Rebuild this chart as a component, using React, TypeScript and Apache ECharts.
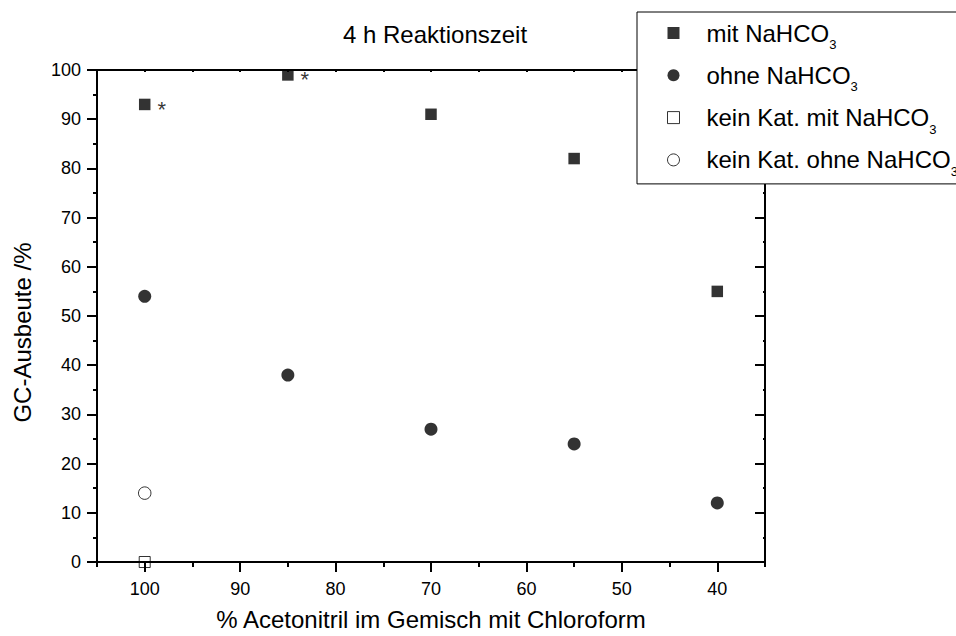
import React, { useEffect, useRef } from "react";
import * as echarts from "echarts";

const FONT = "Liberation Sans, Arial, Helvetica, sans-serif";

const acetonitrilPct = [100, 85, 70, 55, 40];
const mitNaHCO3 = [93, 99, 91, 82, 55];
const ohneNaHCO3 = [54, 38, 27, 24, 12];
const keinKatPct = [100];
const keinKatMitNaHCO3 = [0];
const keinKatOhneNaHCO3 = [14];
const starredIdx = [0, 1];

const majorX = [40, 50, 60, 70, 80, 90, 100];
const seriesNames = [
  "mit NaHCO3",
  "ohne NaHCO3",
  "kein Kat. mit NaHCO3",
  "kein Kat. ohne NaHCO3",
];

const pairs = (xs: number[], ys: number[]) => xs.map((x, i) => [x, ys[i]]);

export default function App() {
  const ref = useRef<HTMLDivElement>(null);
  useEffect(() => {
    if (!ref.current) return;
    const chart = echarts.init(ref.current, null, { renderer: "svg" });
    const axisLine = { show: true, onZero: false, lineStyle: { color: "#000", width: 2 } };
    const xCommon = { type: "value", min: 35, max: 105, inverse: true, splitLine: { show: false } };
    const legendStyle = (i: number) => {
      const styles = [
        { color: "#000", borderWidth: 0 },
        { color: "#000", borderWidth: 0 },
        { color: "#fff", borderColor: "#000", borderWidth: 1 },
        { color: "#fff", borderColor: "#000", borderWidth: 1 },
      ];
      return styles[i];
    };
    chart.setOption({
      animation: false,
      backgroundColor: "#fff",
      textStyle: { fontFamily: FONT, color: "#000" },
      title: {
        text: "4 h Reaktionszeit",
        left: 343,
        top: 22,
        padding: 0,
        textStyle: { fontFamily: FONT, fontSize: 24, fontWeight: "normal", color: "#000" },
      },
      grid: { left: 97, right: 191, top: 70, bottom: 71, containLabel: false },
      legend: {
        orient: "vertical",
        left: 637,
        top: 12,
        padding: [3, 10, 6, 30],
        itemGap: 6.3,
        itemWidth: 12,
        itemHeight: 12,
        borderColor: "#000",
        borderWidth: 1,
        backgroundColor: "#fff",
        z: 10,
        data: seriesNames.map((n, i) => ({
          name: n,
          icon: i % 2 === 0 ? "rect" : "circle",
          itemStyle: legendStyle(i),
        })),
        formatter: (name: string) => "{gap|}" + name.replace(/3$/, "") + "{sub|3}",
        textStyle: {
          fontFamily: FONT,
          fontSize: 24,
          color: "#000",
          lineHeight: 36,
          rich: {
            gap: { width: 22, lineHeight: 36 },
            sub: { fontSize: 13, lineHeight: 13, verticalAlign: "bottom", fontFamily: FONT, color: "#000" },
          },
        },
      },
      xAxis: [
        {
          ...xCommon,
          position: "bottom",
          interval: 5,
          axisLine,
          axisTick: { show: true, length: 5, lineStyle: { color: "#000", width: 2 } },
          axisLabel: {
            show: true,
            margin: 18,
            fontSize: 18,
            fontFamily: FONT,
            color: "#000",
            formatter: (v: number) => (v % 10 === 0 ? String(v) : ""),
          },
          name: "% Acetonitril im Gemisch mit Chloroform",
          nameLocation: "middle",
          nameGap: 45,
          nameTextStyle: { fontFamily: FONT, fontSize: 24, color: "#000" },
        },
        {
          ...xCommon,
          position: "bottom",
          interval: 5,
          axisLine: { show: false },
          axisTick: { show: true, length: 10, customValues: majorX, lineStyle: { color: "#000", width: 2 } },
          axisLabel: { show: false },
        },
        {
          ...xCommon,
          position: "top",
          interval: 5,
          axisLine,
          axisTick: { show: true, inside: true, length: 2, lineStyle: { color: "#000", width: 2 } },
          axisLabel: { show: false },
        },
      ],
      yAxis: [
        {
          type: "value",
          min: 0,
          max: 100,
          interval: 10,
          position: "left",
          axisLine,
          splitLine: { show: false },
          axisTick: { show: true, length: 10, lineStyle: { color: "#000", width: 2 } },
          minorTick: { show: true, splitNumber: 2, length: 4, lineStyle: { color: "#000", width: 2 } },
          axisLabel: { margin: 16, fontSize: 18, fontFamily: FONT, color: "#000" },
          name: "GC-Ausbeute /%",
          nameLocation: "middle",
          nameGap: 63,
          nameTextStyle: { fontFamily: FONT, fontSize: 24, color: "#000", padding: [0, 33, 0, 0] },
        },
        {
          type: "value",
          min: 0,
          max: 100,
          interval: 10,
          position: "right",
          axisLine,
          splitLine: { show: false },
          axisTick: { show: true, inside: true, length: 10, lineStyle: { color: "#000", width: 2 } },
          minorTick: { show: true, splitNumber: 2, length: 2, lineStyle: { color: "#000", width: 2 } },
          axisLabel: { show: false },
        },
      ],
      series: [
        {
          name: seriesNames[0],
          type: "scatter",
          symbol: "rect",
          symbolSize: 11.5,
          itemStyle: { color: "#000" },
          data: pairs(acetonitrilPct, mitNaHCO3).map((p, i) => ({
            value: p,
            label: starredIdx.includes(i)
              ? {
                  show: true,
                  position: "right",
                  distance: 7,
                  offset: [0, 5],
                  formatter: "*",
                  fontSize: 22,
                  fontFamily: FONT,
                  color: "#000",
                }
              : { show: false },
          })),
        },
        {
          name: seriesNames[1],
          type: "scatter",
          symbol: "circle",
          symbolSize: 13,
          itemStyle: { color: "#000" },
          data: pairs(acetonitrilPct, ohneNaHCO3),
        },
        {
          name: seriesNames[2],
          type: "scatter",
          symbol: "rect",
          symbolSize: 11,
          z: -1,
          itemStyle: { color: "#fff", borderColor: "#000", borderWidth: 1 },
          data: pairs(keinKatPct, keinKatMitNaHCO3),
        },
        {
          name: seriesNames[3],
          type: "scatter",
          symbol: "circle",
          symbolSize: 12.5,
          itemStyle: { color: "#fff", borderColor: "#000", borderWidth: 1 },
          data: pairs(keinKatPct, keinKatOhneNaHCO3),
        },
      ],
    });
    return () => chart.dispose();
  }, []);
  return (
    <div
      ref={ref}
      style={{ position: "fixed", left: 0, top: 0, width: 956, height: 636, background: "#fff" }}
    />
  );
}
